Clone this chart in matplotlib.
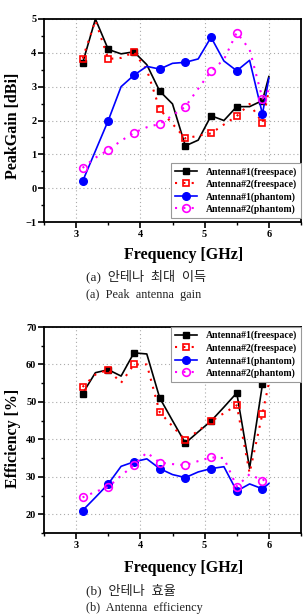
import matplotlib
matplotlib.use("Agg")
import matplotlib.pyplot as plt
from matplotlib.ticker import MultipleLocator
import numpy as np

# Frequency points (GHz); markers every second point
freq = [3.1, 3.3, 3.5, 3.7, 3.9, 4.1, 4.3, 4.5, 4.7, 4.9, 5.1, 5.3, 5.5, 5.7, 5.9, 6.0]

labels = ["Antenna#1(freespace)", "Antenna#2(freespace)",
          "Antenna#1(phantom)", "Antenna#2(phantom)"]

# (a) peak gain [dBi]
gain_a1_free = [3.69, 5.0, 4.1, 3.97, 4.03, 3.65, 2.87, 2.49, 1.25, 1.42, 2.14, 2.0, 2.41, 2.41, 2.59, 3.3]
gain_a2_free = [3.83, 4.95, 3.82, 3.85, 4.02, 3.5, 2.34, 1.9, 1.47, 1.55, 1.62, 1.88, 2.13, 2.49, 1.93, 2.9]
gain_a1_phan = [0.2, 1.1, 2.0, 3.0, 3.34, 3.6, 3.52, 3.69, 3.72, 3.82, 4.46, 3.76, 3.47, 3.78, 2.19, 3.25]
gain_a2_phan = [0.6, 0.9, 1.13, 1.4, 1.64, 1.8, 1.9, 2.15, 2.41, 2.94, 3.46, 3.8, 4.6, 4.1, 2.65, 2.9]

# (b) efficiency [%]
eff_a1_free = [52.2, 57.8, 58.6, 56.9, 63.1, 62.8, 51.1, 45.0, 39.0, 42.0, 44.9, 48.6, 52.4, 32.3, 54.7, np.nan]
eff_a2_free = [54.0, 57.3, 58.6, 55.1, 60.0, 60.0, 47.3, 43.5, 39.8, 42.3, 44.8, 47.0, 49.1, 31.0, 46.9, 55.0]
eff_a1_phan = [21.0, 24.5, 28.1, 32.8, 34.0, 34.8, 32.2, 30.6, 29.8, 31.3, 32.2, 32.7, 26.2, 28.1, 26.8, 28.2]
eff_a2_phan = [24.5, 26.0, 27.3, 30.3, 33.1, 36.5, 33.8, 33.4, 33.1, 34.2, 35.2, 35.0, 27.4, 30.7, 29.0, 30.0]

SERIF = "Liberation Serif"
KO = [SERIF, "Noto Sans CJK KR"]

styles = [
    dict(color="black", ls="-", lw=1.2, marker="s", ms=4.5, mfc="black", mec="black"),
    dict(color="red", ls=(0, (1, 3)), lw=1.5, marker="s", ms=5, mfc="none", mec="red", mew=1.2),
    dict(color="#0000ff", ls="-", lw=1.2, marker="o", ms=5.5, mfc="#0000ff", mec="#0000ff"),
    dict(color="#ff00ff", ls=(0, (1, 3)), lw=1.5, marker="o", ms=5.5, mfc="none", mec="#ff00ff", mew=1.2),
]

W, H = 305, 616
fig = plt.figure(figsize=(W / 100, H / 100), dpi=100)


def px_axes(x0, y0, x1, y1):
    return fig.add_axes([x0 / W, 1 - y1 / H, (x1 - x0) / W, (y1 - y0) / H])


def style_axes(ax, ylim, ymaj, ymin):
    ax.set_xlim(2.5, 6.5)
    ax.set_ylim(*ylim)
    ax.xaxis.set_major_locator(MultipleLocator(1))
    ax.xaxis.set_minor_locator(MultipleLocator(0.5))
    ax.yaxis.set_major_locator(MultipleLocator(ymaj))
    ax.yaxis.set_minor_locator(MultipleLocator(ymin))
    ax.grid(True, which="major", color="#aaaaaa", ls=(0, (1, 2.5)), lw=0.8)
    ax.tick_params(which="major", direction="out", length=4, width=1.2, pad=1.5,
                   labelsize=7.5, top=False, right=False)
    ax.tick_params(which="minor", direction="out", length=2, width=1.0, top=False, right=False)
    for s in ax.spines.values():
        s.set_linewidth(1.3)
    for t in ax.get_xticklabels() + ax.get_yticklabels():
        t.set_family(SERIF)
        t.set_weight("bold")


def draw(ax, series):
    for ys, st, lab in zip(series, styles, labels):
        ax.plot(freq, ys, markevery=slice(0, 15, 2), label=lab, **st)


# --- (a) peak gain ---
ax1 = px_axes(44, 19, 301, 222)
draw(ax1, [gain_a1_free, gain_a2_free, gain_a1_phan, gain_a2_phan])
style_axes(ax1, (-1, 5), 1, 0.5)
ax1.set_yticks(range(-1, 6))
leg_kw = dict(prop={"family": SERIF, "weight": "bold", "size": 7}, fancybox=False,
              edgecolor="#999999", framealpha=1, handlelength=2.3, handletextpad=0.9,
              labelspacing=0.3, borderpad=0.4, borderaxespad=0)
leg1 = ax1.legend(loc="lower right", bbox_to_anchor=(1.0, 4 / 203), **leg_kw)
leg1.get_frame().set_linewidth(0.8)

fig.text(13 / W, 1 - 126 / H, "PeakGain [dBi]", rotation=90, ha="center", va="center",
         family=SERIF, weight="bold", size=11.5)
fig.text(184 / W, 1 - 255 / H, "Frequency [GHz]", ha="center", va="center",
         family=SERIF, weight="bold", size=11.5)
fig.text(86 / W, 1 - 276 / H, "(a)  안테나  최대  이득", ha="left", va="center",
         family=KO, size=9.5, color="#222222")
fig.text(86 / W, 1 - 295 / H, "(a)  Peak  antenna  gain", ha="left", va="center",
         family=SERIF, size=8.8, color="#222222")

# --- (b) efficiency ---
ax2 = px_axes(44, 327, 301, 533)
draw(ax2, [eff_a1_free, eff_a2_free, eff_a1_phan, eff_a2_phan])
style_axes(ax2, (15, 70), 10, 5)
leg2 = ax2.legend(loc="upper right", bbox_to_anchor=(1.0, 1.0), **leg_kw)
leg2.get_frame().set_linewidth(0.8)

fig.text(13 / W, 1 - 438 / H, "Efficiency [%]", rotation=90, ha="center", va="center",
         family=SERIF, weight="bold", size=11.5)
fig.text(184 / W, 1 - 568 / H, "Frequency [GHz]", ha="center", va="center",
         family=SERIF, weight="bold", size=11.5)
fig.text(86 / W, 1 - 590 / H, "(b)  안테나  효율", ha="left", va="center",
         family=KO, size=9.5, color="#222222")
fig.text(86 / W, 1 - 608 / H, "(b)  Antenna  efficiency", ha="left", va="center",
         family=SERIF, size=8.8, color="#222222")

fig.savefig("out.png", dpi=100)
